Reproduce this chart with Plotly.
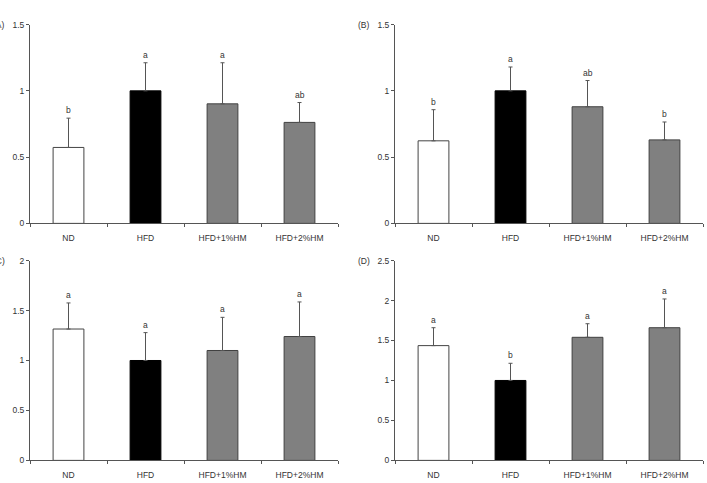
import plotly.graph_objects as go

categories = ["ND", "HFD", "HFD+1%HM", "HFD+2%HM"]

# Panel values (mean) and upper error-bar tops
a_vals = [0.573, 1.0, 0.902, 0.762]
a_tops = [0.794, 1.212, 1.212, 0.912]
a_letters = ["b", "a", "a", "ab"]

b_vals = [0.623, 1.0, 0.88, 0.63]
b_tops = [0.858, 1.18, 1.078, 0.765]
b_letters = ["b", "a", "ab", "b"]

c_vals = [1.315, 1.0, 1.10, 1.24]
c_tops = [1.576, 1.279, 1.432, 1.586]
c_letters = ["a", "a", "a", "a"]

d_vals = [1.436, 1.0, 1.54, 1.66]
d_tops = [1.66, 1.215, 1.71, 2.02]
d_letters = ["a", "b", "a", "a"]

panel_labels = ["(A)", "(B)", "(C)", "(D)"]
y_max = [1.5, 1.5, 2.0, 2.5]

W, H = 707, 483
fill_colors = ["#ffffff", "#000000", "#808080", "#808080"]
line_colors = ["#444444", "#000000", "#404040", "#404040"]
FONT = "Liberation Sans, Arial, sans-serif"
AX = "#555555"
TXT = "#333333"
FS = 8.5

# pixel boxes (left, right, top, bottom)
boxes = [(30, 338, 20, 223), (395, 703, 20, 223),
         (30, 338, 261, 465), (395, 703, 261, 465)]

panels = [(a_vals, a_tops, a_letters), (b_vals, b_tops, b_letters),
          (c_vals, c_tops, c_letters), (d_vals, d_tops, d_letters)]

fig = go.Figure()
annotations = []
layout = {}
for i, ((vals, tops, letters), box, ymx, plabel) in enumerate(zip(panels, boxes, y_max, panel_labels)):
    n = "" if i == 0 else str(i + 1)
    xa, ya = "x" + n, "y" + n
    l, r, t, b = box
    fig.add_trace(go.Bar(
        x=categories, y=vals, xaxis=xa, yaxis=ya,
        marker=dict(color=fill_colors, line=dict(color=line_colors, width=1)),
        error_y=dict(type="data", symmetric=False,
                     array=[tp - v for tp, v in zip(tops, vals)],
                     arrayminus=[0] * len(vals),
                     color="#555555", thickness=1, width=2),
        showlegend=False, hoverinfo="skip"))
    layout["xaxis" + n] = dict(
        domain=[l / W, r / W], anchor=ya, type="category",
        showline=True, linecolor=AX, linewidth=1, mirror=False,
        ticks="outside", ticklen=3, tickcolor=AX, tickson="boundaries",
        ticklabelstandoff=6,
        showgrid=False, zeroline=False,
        tickfont=dict(family=FONT, size=FS, color=TXT))
    layout["yaxis" + n] = dict(
        domain=[1 - b / H, 1 - t / H], anchor=xa, range=[0, ymx], dtick=0.5,
        showline=True, linecolor=AX, linewidth=1,
        ticks="outside", ticklen=3, tickcolor=AX,
        showgrid=False, zeroline=False,
        tickfont=dict(family=FONT, size=FS, color=TXT))
    for cat, tp, let in zip(categories, tops, letters):
        annotations.append(dict(x=cat, y=tp, xref=xa, yref=ya, text=let,
                                showarrow=False, yanchor="bottom", yshift=1,
                                font=dict(family=FONT, size=FS, color=TXT)))
    annotations.append(dict(x=(l - 23) / W, y=1 - t / H, xref="paper", yref="paper",
                            text=plabel, showarrow=False, xanchor="right",
                            yanchor="middle",
                            font=dict(family=FONT, size=FS, color=TXT)))

fig.update_layout(width=W, height=H, margin=dict(l=0, r=0, t=0, b=0),
                  paper_bgcolor="white", plot_bgcolor="white",
                  bargap=0.6, annotations=annotations, **layout)
fig.write_html("out.html")
